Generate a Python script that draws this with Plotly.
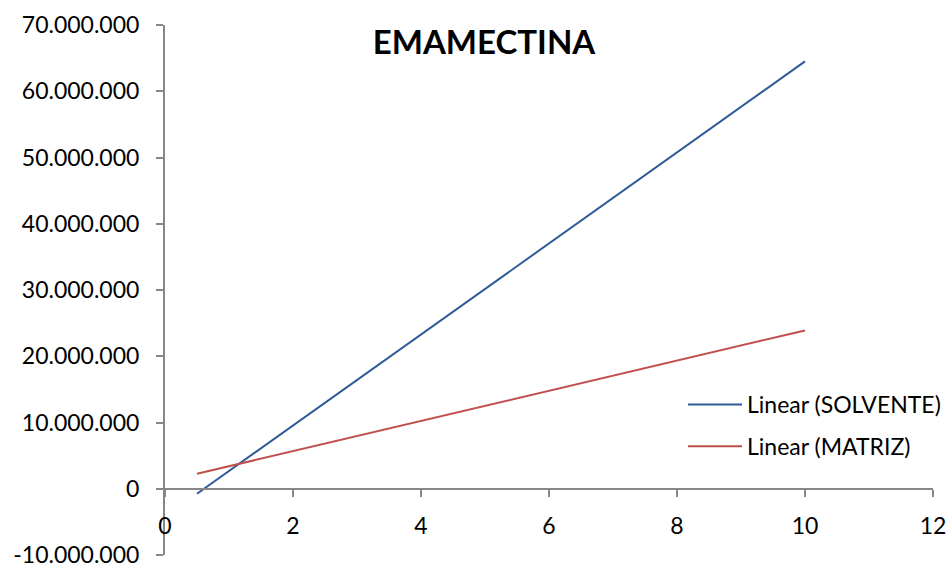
import plotly.graph_objects as go

# Linear calibration fits, drawn across the concentration range
x_range = [0.5, 10]
series_names = ["Linear (SOLVENTE)", "Linear (MATRIZ)"]
solvente_fit = [-750000, 64500000]
matriz_fit = [2260000, 23900000]
series_colors = ["#2E5B97", "#C0504D"]

y_tick_vals = [-10000000, 0, 10000000, 20000000, 30000000, 40000000, 50000000, 60000000, 70000000]
y_tick_text = ["-10.000.000", "0", "10.000.000", "20.000.000", "30.000.000",
               "40.000.000", "50.000.000", "60.000.000", "70.000.000"]
x_tick_vals = [0, 2, 4, 6, 8, 10, 12]

FONT = "Lato"
AXIS_GREY = "#878787"

fig = go.Figure()
for name, ys, col in zip(series_names, [solvente_fit, matriz_fit], series_colors):
    fig.add_trace(go.Scatter(x=x_range, y=ys, mode="lines", name=name, legendgroup=name,
                             line=dict(color=col, width=2)))

fig.update_layout(
    width=952, height=569,
    margin=dict(l=165, r=19, t=25, b=14, autoexpand=False),
    paper_bgcolor="white", plot_bgcolor="white",
    font=dict(family=FONT, size=23, color="black"),
    title=dict(text="<b>EMAMECTINA</b>", x=484 / 952, xanchor="center",
               y=1 - 42 / 569, yanchor="middle",
               font=dict(family=FONT, size=33, color="black")),
    showlegend=True,
    legend=dict(x=0.6745, xanchor="left", y=0.3245, yanchor="top",
                bgcolor="rgba(0,0,0,0)", itemwidth=54, tracegroupgap=9,
                traceorder="grouped",
                font=dict(family=FONT, size=23, color="black")),
    xaxis=dict(range=[0, 12], tickvals=x_tick_vals, showgrid=False, zeroline=False,
               showline=True, linecolor=AXIS_GREY, linewidth=2,
               ticks="outside", ticklen=7, tickcolor=AXIS_GREY, tickwidth=2,
               anchor="free", position=0.125, ticklabelstandoff=10, automargin=False),
    yaxis=dict(range=[-10000000, 70000000], tickvals=y_tick_vals, ticktext=y_tick_text,
               showgrid=False, zeroline=False,
               showline=True, linecolor=AXIS_GREY, linewidth=2,
               ticks="outside", ticklen=7, tickcolor=AXIS_GREY, tickwidth=2,
               ticklabelstandoff=12, automargin=False),
)

fig.write_html("out.html")
